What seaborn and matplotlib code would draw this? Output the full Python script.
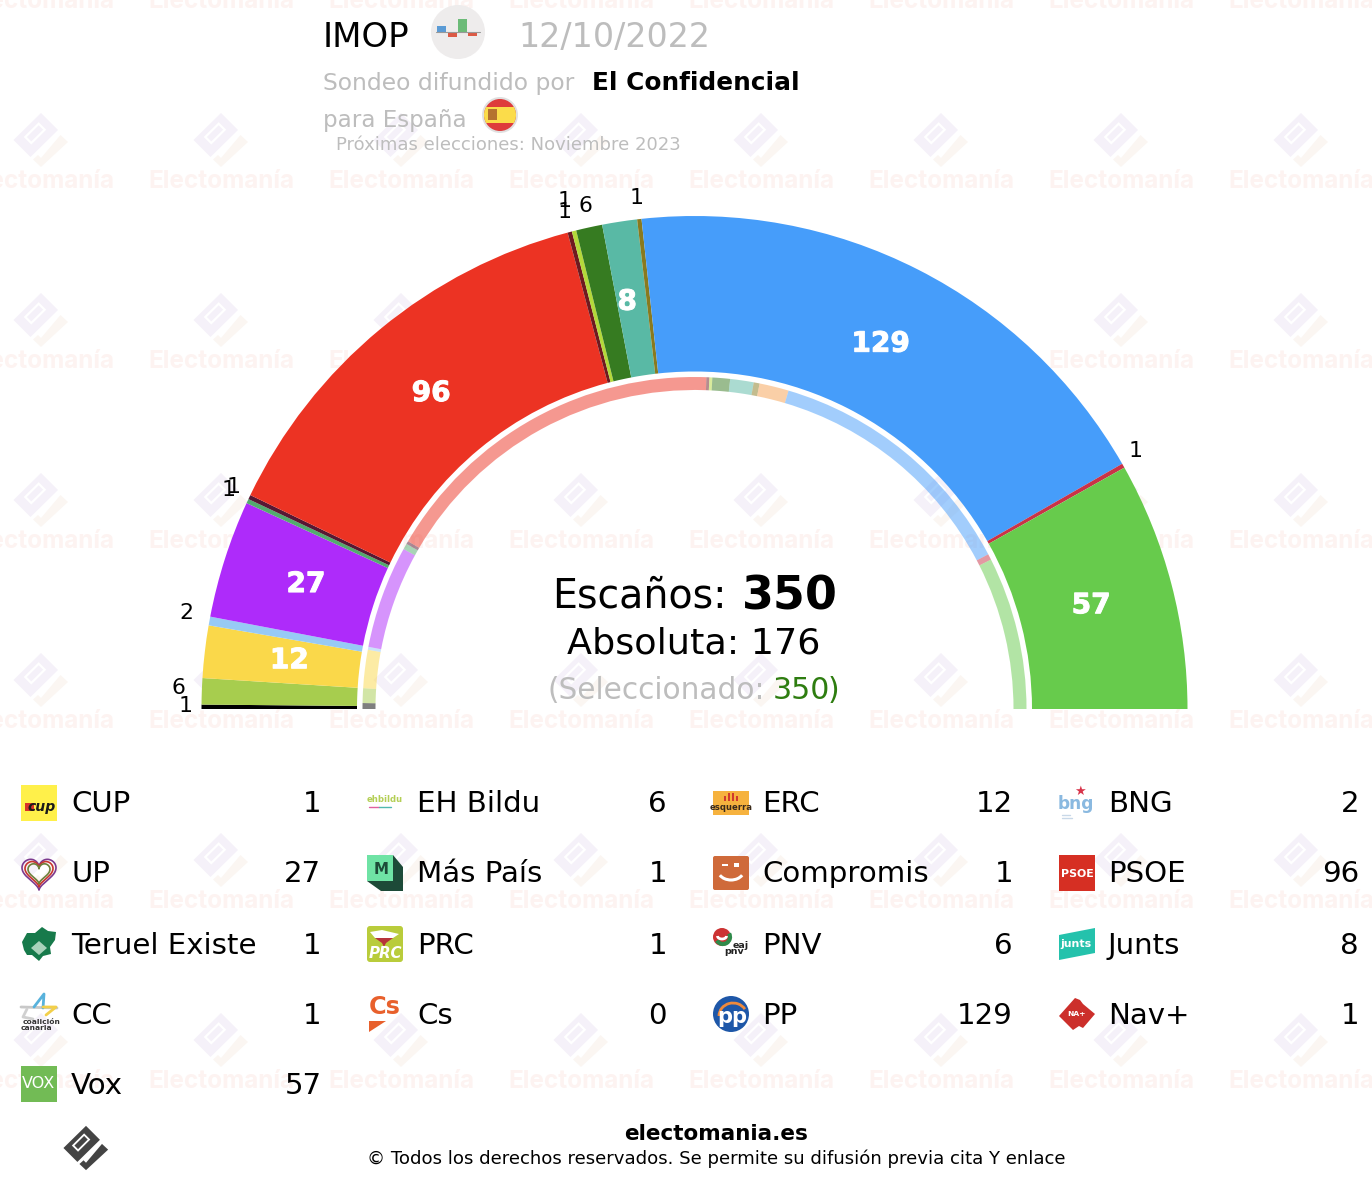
import numpy as np
import matplotlib
matplotlib.use("Agg")
import matplotlib.pyplot as plt
import matplotlib.patheffects as pe
from matplotlib.patches import Circle, Polygon, Rectangle, FancyBboxPatch, Arc
import seaborn as sns

# escaños en el orden del hemiciclo
parties = ["CUP", "EH Bildu", "ERC", "BNG", "UP", "Más País", "Compromis", "PSOE", "PRC",
           "Teruel Existe", "PNV", "Junts", "CC", "Cs", "PP", "Nav+", "Vox"]
seats_poll = [1, 6, 12, 2, 27, 1, 1, 96, 1, 1, 6, 8, 1, 0, 129, 1, 57]
seats_prev = [2, 5, 13, 1, 35, 2, 1, 120, 1, 1, 6, 8, 2, 10, 89, 2, 52]
party_colors = ["#000000", "#a7cd4e", "#fad84a", "#97caf5", "#ae2bfa", "#52ab6e", "#571733",
                "#ec3323", "#6e1a20", "#b4d93a", "#367b21", "#59b9a5", "#897a1f", "#f6a050",
                "#469dfa", "#c93347", "#67cb4c"]

# leyenda, por columnas
legend_columns = [
    ["CUP", "UP", "Teruel Existe", "CC", "Vox"],
    ["EH Bildu", "Más País", "PRC", "Cs"],
    ["ERC", "Compromis", "PNV", "PP"],
    ["BNG", "PSOE", "Junts", "Nav+"],
]

W, H = 1372, 1178
CX, CY = 694.5, 709
R_LIM = 500

# ajuste a mano de las etiquetas que se pisan (px)
label_nudge = {"CUP": (5, 1), "EH Bildu": (-2, 3), "BNG": (-2, 4), "Más País": (5, 5),
               "Compromis": (-2, -2), "PRC": (0, 0), "Teruel Existe": (-4, 10), "PNV": (1, 1),
               "Nav+": (-6, 4), "Junts": (-5, 2), "PSOE": (-2, 0), "UP": (2, 0), "ERC": (2, 1)}

sns.set_theme(style="white", font="DejaVu Sans")


def px(size):
    return size * 0.72


fig = plt.figure(figsize=(W / 100, H / 100), dpi=100, facecolor="white")

# capa de fondo con la marca de agua
bg = fig.add_axes([0, 0, 1, 1], zorder=0)
bg.set_xlim(0, W)
bg.set_ylim(H, 0)
bg.axis("off")

# hemiciclo
ax = fig.add_axes([(CX - R_LIM) / W, (H - CY - R_LIM) / H, 2 * R_LIM / W, 2 * R_LIM / H],
                  projection="polar", zorder=1)
ax.patch.set_alpha(0)

# capa de textos y logos
top = fig.add_axes([0, 0, 1, 1], zorder=2)
top.set_xlim(0, W)
top.set_ylim(H, 0)
top.axis("off")
top.patch.set_alpha(0)


def logo_mark(target, cx, cy, scale, color, tick_color, zorder=1):
    main = [(0, -27), (17, -10), (-10.5, 17), (-27.5, 0)]
    slot = [(-2.3, -16.3), (3.7, -10.3), (-9.7, 3), (-15.7, -3)]
    tick = [(19.5, -5), (27, 2), (0, 27), (-8, 19.5), (-3, 15), (0, 18)]
    shift = lambda pts: [(cx + a * scale, cy + b * scale) for a, b in pts]
    target.add_patch(Polygon(shift(main), fc=color, ec="none", zorder=zorder))
    target.add_patch(Polygon(shift(slot), fc=color, ec="white", lw=1.6 * scale, zorder=zorder))
    target.add_patch(Polygon(shift(tick), fc=tick_color, ec="none", zorder=zorder))


for col in range(8):
    for row in range(6):
        logo_mark(bg, 41 + 180 * col, 140 + 180 * row, 1, "#f5f1f9", "#fbf6f2")
    for row in range(7):
        bg.text(41 + 180 * col, 181 + 180 * (row - 1), "Electomanía", family="Inter", weight="bold",
                fontsize=px(24.3), color="#fdf3f1", ha="center", va="center", clip_on=True)


def draw_arc(seats, r_in, r_out, alpha):
    seats = np.array(seats, dtype=float)
    to_rad = np.pi / seats.sum()
    edges = np.concatenate([[0], np.cumsum(seats)]) * to_rad
    for start, end, color in zip(edges[:-1], edges[1:], party_colors):
        if end == start:
            continue
        sns.barplot(x=[(start + end) / 2], y=[r_out - r_in], bottom=r_in, width=end - start,
                    native_scale=True, color=color, saturation=1, alpha=alpha, errorbar=None,
                    linewidth=0, ax=ax)
    return edges


edges_poll = draw_arc(seats_poll, 337.5, 493, 1)
draw_arc(seats_prev, 319, 332, 0.5)

ax.set_theta_zero_location("W")
ax.set_theta_direction(-1)
ax.set_xlim(0, 2 * np.pi)
ax.set_ylim(0, R_LIM)
ax.set_xlabel("")
ax.set_ylabel("")
ax.set_xticks([])
ax.set_yticks([])
ax.grid(False)
ax.spines["polar"].set_visible(False)

# números sobre el hemiciclo
white_bold = [pe.withStroke(linewidth=0.7, foreground="white")]
for name, n, start, end in zip(parties, seats_poll, edges_poll[:-1], edges_poll[1:]):
    if n == 0:
        continue
    mid = (start + end) / 2
    inside = n >= 8
    ax.annotate(str(n), xy=(mid, 410 if inside else 514), xytext=label_nudge.get(name, (0, 0)),
                textcoords="offset pixels", annotation_clip=False,
                color="white" if inside else "black", weight="bold" if inside else "normal",
                fontsize=px(28 if inside else 22), ha="center", va="center",
                path_effects=white_bold if inside else None)

# cabecera
top.text(323, 47, "IMOP", fontsize=px(34), color="black", va="baseline")
top.add_patch(Circle((458, 32), 27, fc="#eeecec", ec="none"))
top.plot([436, 480], [32, 32], color="#999999", lw=0.8)
for x0, h, c in [(437, -6, "#5b9bd5"), (448, 5, "#dc5a45"), (458, -13, "#6cbb78"), (468, 4, "#dc5a45")]:
    top.add_patch(Rectangle((x0, 32), 9, h, fc=c, ec="none"))
top.text(518, 47, "12/10/2022", fontsize=px(33.3), color="#bdbdbd", va="baseline")
top.text(323, 90, "Sondeo difundido por", fontsize=px(23.5), color="#bdbdbd", va="baseline")
top.text(592, 90, "El Confidencial", fontsize=px(24.8), weight="bold", color="black", va="baseline")
top.text(323, 127, "para España", fontsize=px(23), color="#bdbdbd", va="baseline")
flag_clip = Circle((500, 115), 16, transform=top.transData)
top.add_patch(Circle((500, 115), 18, fc="#e0e0e0", ec="none"))
for y0, h, c in [(99, 32, "#de3b3b"), (107, 16, "#fbdc4a")]:
    top.add_patch(Rectangle((484, y0), 32, h, fc=c, ec="none", clip_path=flag_clip))
top.add_patch(Rectangle((488, 109), 9, 11, fc="#b5732f", ec="none"))
top.text(336, 150, "Próximas elecciones: Noviembre 2023", fontsize=px(18), color="#bdbdbd", va="baseline")

# centro
top.text(727, 608, "Escaños:", fontsize=px(39.5), color="black", ha="right", va="baseline")
top.text(742, 609, "350", fontsize=px(46), weight="bold", color="black", ha="left", va="baseline")
top.text(694, 654, "Absoluta: 176", fontsize=px(36.5), color="black", ha="center", va="baseline")
top.text(548, 699, "(Seleccionado:", fontsize=px(29.6), color="#bdbdbd", ha="left", va="baseline")
top.text(773, 699, "350", fontsize=px(30), color="#2e7d10", ha="left", va="baseline")
top.text(828, 699, ")", fontsize=px(30), color="#2e7d10", ha="left", va="baseline")


def square(x, y, color, size=36):
    top.add_patch(Rectangle((x - size / 2, y - size / 2), size, size, fc=color, ec="none"))


def small(x, y, s, color, size, **kw):
    top.text(x, y, s, color=color, fontsize=px(size), ha="center", va="center", **kw)


def logo_cup(x, y):
    square(x, y, "#fff04a")
    top.add_patch(Rectangle((x - 14, y + 0), 9, 8, fc="#d8332a", ec="none"))
    small(x + 3, y + 4, "cup", "#1a1a1a", 14, weight="bold", style="italic")


def logo_up(x, y):
    t = np.linspace(0, 2 * np.pi, 200)
    hx = np.sin(t) ** 3
    hy = -(13 * np.cos(t) - 5 * np.cos(2 * t) - 2 * np.cos(3 * t) - np.cos(4 * t)) / 16
    for k, c in [(17, "#7c3a8f"), (14, "#c8352f"), (11, "#6d7f3a")]:
        top.plot(x + k * hx, y - 1 + k * hy, color=c, lw=1.2)


def logo_teruel(x, y):
    pts = [(-17, -2), (-12, -11), (-4, -11), (3, -17), (9, -13), (17, -12), (16, -4), (11, 3),
           (12, 10), (4, 12), (0, 17), (-7, 11), (-12, 11), (-15, 6)]
    top.add_patch(Polygon([(x + a, y + b) for a, b in pts], fc="#177a4b", ec="none"))
    top.add_patch(Polygon([(x, y - 3), (x + 8, y + 4), (x, y + 11), (x - 8, y + 4)], fc="#a9d2ba", ec="none"))


def logo_cc(x, y):
    top.plot([x - 18, x + 18], [y - 7, y - 6], color="#c8c8c8", lw=2)
    top.plot([x - 5, x + 5, x + 4], [y - 7, y - 20, y - 6], color="#58b2dc", lw=2)
    top.plot([x + 4, x + 17, x + 7], [y - 7, y - 7, y + 1], color="#f2cf4a", lw=2)
    top.plot([x - 12, x - 16, x - 6], [y - 5, y + 3, y + 5], color="#d0d0d0", lw=2)
    small(x + 3, y + 8, "coalición", "#333333", 7.5, weight="bold")
    small(x - 3, y + 14, "canaria", "#333333", 7.5, weight="bold")


def logo_vox(x, y):
    square(x, y, "#72bb55")
    small(x, y - 1, "VOX", "white", 16)


def logo_bildu(x, y):
    small(x, y - 3, "ehbildu", "#b4cf55", 8.5, weight="bold")
    top.plot([x - 16, x - 6], [y + 4, y + 4], color="#e060a0", lw=1)
    top.plot([x - 6, x + 6], [y + 4, y + 4], color="#50b8b0", lw=1)


def logo_maspais(x, y):
    top.add_patch(Polygon([(x - 18, y + 8), (x - 4, y + 18), (x + 18, y + 18), (x + 18, y - 6), (x + 8, y - 18)],
                          fc="#1d4a38", ec="none"))
    top.add_patch(Rectangle((x - 18, y - 18), 26, 26, fc="#6fe3a5", ec="none"))
    small(x - 4, y - 4, "M", "#1d4a38", 15, weight="bold")


def logo_prc(x, y):
    top.add_patch(FancyBboxPatch((x - 16, y - 16), 32, 32, boxstyle="round,pad=2,rounding_size=3",
                                 fc="#b9cc3b", ec="none"))
    top.add_patch(Polygon([(x - 15, y - 12), (x - 3, y - 14), (x + 14, y - 10), (x + 8, y - 6), (x - 10, y - 6)],
                          fc="white", ec="none"))
    top.add_patch(Polygon([(x - 10, y - 6), (x + 8, y - 6), (x + 1, y - 1), (x - 1, y + 3), (x - 3, y - 1)],
                          fc="#b6343c", ec="none"))
    small(x, y + 9, "PRC", "white", 15, weight="bold", style="italic")


def logo_cs(x, y):
    small(x, y - 7, "Cs", "#e8602c", 24, weight="bold")
    top.add_patch(Polygon([(x - 16, y + 7), (x + 1, y + 7), (x - 16, y + 18)], fc="#e8602c", ec="none"))


def logo_erc(x, y):
    top.add_patch(Rectangle((x - 18, y - 12), 36, 24, fc="#f6b23e", ec="none"))
    for k, h in [(-6, 5), (-2, 8), (2, 8), (6, 5)]:
        top.add_patch(Rectangle((x + k - 1, y - 2 - h), 2, h, fc="#d13a2c", ec="none"))
    small(x, y + 5, "esquerra", "#3a2a1a", 8.5, weight="bold")


def logo_compromis(x, y):
    top.add_patch(FancyBboxPatch((x - 17, y - 16), 34, 32, boxstyle="round,pad=1,rounding_size=2",
                                 fc="#cf6a3a", ec="none"))
    top.add_patch(Rectangle((x - 9, y - 9), 6, 2, fc="white", ec="none"))
    top.add_patch(Rectangle((x + 3, y - 10), 5, 4, fc="white", ec="none"))
    top.add_patch(Arc((x, y - 3), 26, 20, theta1=25, theta2=155, lw=2.2, color="white"))


def logo_pnv(x, y):
    top.add_patch(Circle((x - 9, y - 7), 9, fc="#cc3333", ec="none"))
    top.add_patch(Arc((x - 8, y - 7), 14, 14, theta1=-30, theta2=150, lw=3, color="#2f8a4a"))
    top.add_patch(Arc((x - 9, y - 8), 9, 6, theta1=0, theta2=180, lw=2, color="white"))
    small(x + 10, y + 1, "eaj", "#222222", 9.5, weight="bold")
    small(x + 3, y + 7, "pnv", "#222222", 9.5, weight="bold")


def logo_pp(x, y):
    top.add_patch(Circle((x, y), 18, fc="#1e57a8", ec="none"))
    top.add_patch(Arc((x + 2, y + 2), 28, 26, theta1=180, theta2=330, lw=2, color="#ef8a3c"))
    small(x + 1, y + 3, "pp", "white", 21, weight="bold")


def logo_bng(x, y):
    small(x - 1, y + 1, "bng", "#8ab9e0", 17, weight="bold")
    small(x + 3, y - 12, "★", "#d8344a", 13)
    top.plot([x - 15, x - 7], [y + 12, y + 12], color="#c8d8e8", lw=1)
    top.plot([x - 15, x - 5], [y + 15, y + 15], color="#c8d8e8", lw=1)


def logo_psoe(x, y):
    square(x, y, "#d62f23")
    small(x, y + 1, "PSOE", "white", 11, weight="bold")


def logo_junts(x, y):
    top.add_patch(Polygon([(x - 18, y - 9), (x + 18, y - 16), (x + 18, y + 9), (x - 18, y + 16)],
                          fc="#24c2ac", ec="none"))
    small(x - 1, y, "junts", "white", 11, weight="bold")


def logo_nav(x, y):
    pts = [(-18, 2), (-2, -16), (3, -14), (6, -10), (18, 0), (6, 14), (2, 12), (-4, 16), (-10, 10)]
    top.add_patch(Polygon([(x + a, y + b) for a, b in pts], fc="#cc2f2b", ec="none"))
    small(x, y, "NA+", "white", 7.5, weight="bold")


logos = {"CUP": logo_cup, "UP": logo_up, "Teruel Existe": logo_teruel, "CC": logo_cc, "Vox": logo_vox,
         "EH Bildu": logo_bildu, "Más País": logo_maspais, "PRC": logo_prc, "Cs": logo_cs,
         "ERC": logo_erc, "Compromis": logo_compromis, "PNV": logo_pnv, "PP": logo_pp,
         "BNG": logo_bng, "PSOE": logo_psoe, "Junts": logo_junts, "Nav+": logo_nav}

# leyenda
row_y = [803, 873, 944, 1014, 1084]
col_logo = [39, 385, 731, 1077]
col_name = [71, 417, 762, 1108]
col_value = [321.5, 667, 1013, 1359]
seats_by_party = dict(zip(parties, seats_poll))
for c, names in enumerate(legend_columns):
    for y, name in zip(row_y, names):
        logos[name](col_logo[c], y)
        top.text(col_name[c], y - 1.5, name, fontsize=px(29.2), color="black", va="center_baseline")
        top.text(col_value[c], y - 1.5, str(seats_by_party[name]), fontsize=px(29.2), color="black",
                 ha="right", va="center_baseline")

# pie
logo_mark(top, 86, 1148, 0.82, "#444444", "#444444", zorder=3)
top.text(716.5, 1140, "electomania.es", fontsize=px(21.5), weight="bold", color="black", ha="center", va="baseline")
top.text(716.5, 1164, "© Todos los derechos reservados. Se permite su difusión previa cita Y enlace",
         fontsize=px(18.2), color="black", ha="center", va="baseline")

fig.savefig("out.png", dpi=100)
